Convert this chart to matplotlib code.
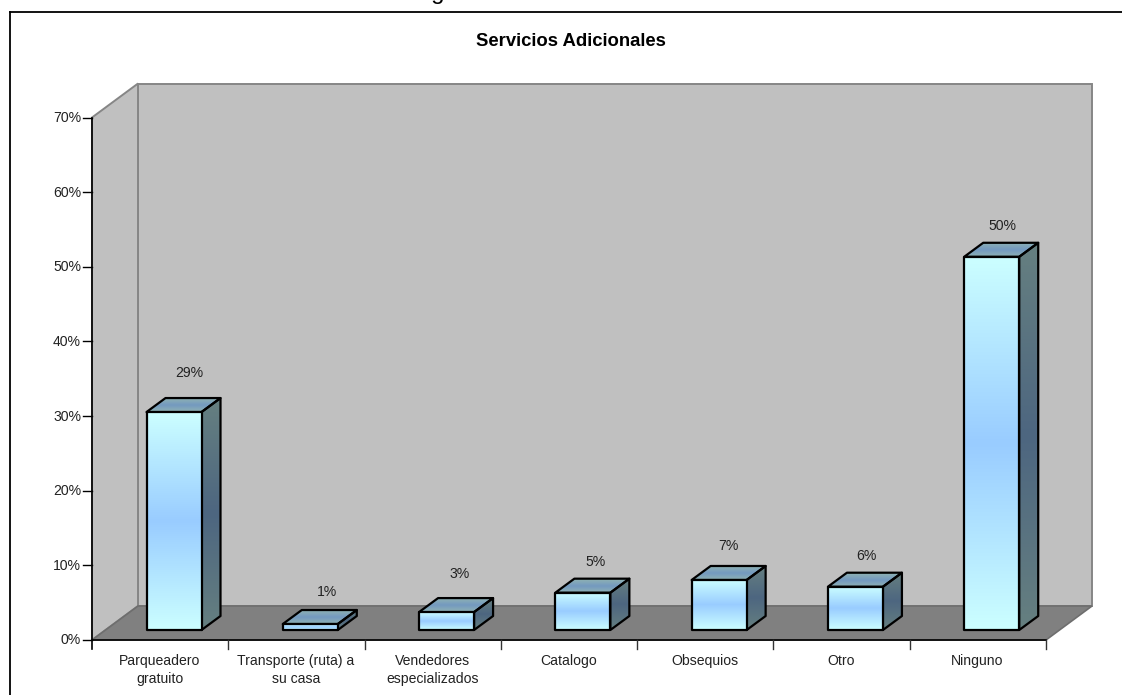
import matplotlib
matplotlib.use('Agg')
import matplotlib.pyplot as plt
from matplotlib.colors import LinearSegmentedColormap
from matplotlib.patches import Polygon
import numpy as np

plt.rcParams['font.family'] = ['Liberation Sans', 'DejaVu Sans']

# data
categories = ['Parqueadero\ngratuito', 'Transporte (ruta) a\nsu casa', 'Vendedores\nespecializados',
              'Catalogo', 'Obsequios', 'Otro', 'Ninguno']
values = [29.2, 0.8, 2.4, 5.0, 6.7, 5.8, 50.0]
value_labels = ['29%', '1%', '3%', '5%', '7%', '6%', '50%']
y_ticks = [0, 10, 20, 30, 40, 50, 60, 70]
y_tick_labels = ['0%', '10%', '20%', '30%', '40%', '50%', '60%', '70%']

W, H = 1122, 695
fig = plt.figure(figsize=(W / 100, H / 100), dpi=100, facecolor='white')

# axes spans the front plane of the 3D box, data units: categories / percent
x0, x1, y0, y70 = 92, 1046, 640, 117.5
ax = fig.add_axes([x0 / W, 1 - y0 / H, (x1 - x0) / W, (y0 - y70) / H])
ax.set_xlim(0, len(categories))
ax.set_ylim(0, 70)
ax.patch.set_visible(False)
for s in ax.spines.values():
    s.set_visible(False)
ax.set_xticks([])
ax.set_yticks([])

px = len(categories) / (x1 - x0)
py = 70 / (y0 - y70)

# box depth and bar depth
dx, dy = 46 * px, 34 * py
bdx, bdy = 19 * px, 14 * py
bar_w = 55 * px
bar_off = 54.5 * px
base = 10 * py
wall = '#c0c0c0'
wall_edge = '#868686'
floor = '#808080'
font = 10.1

# the value labels were placed by hand in the original, offsets in pixels
label_dx = [43, 44, 41, 40, 37, 38.5, 38]
label_dy = [25, 18, 24, 17, 20, 17, 17]


def poly(pts, **kw):
    p = Polygon(pts, closed=True, clip_on=False, **kw)
    ax.add_patch(p)
    return p


n = len(categories)
poly([(dx, dy), (n + dx, dy), (n + dx, 70 + dy), (dx, 70 + dy)], fc=wall, ec=wall_edge, lw=1.4, zorder=1)
poly([(0, 0), (dx, dy), (dx, 70 + dy), (0, 70)], fc=wall, ec=wall_edge, lw=1.4, zorder=1)
poly([(0, 0), (n, 0), (n + dx, dy), (dx, dy)], fc=floor, ec='#6e6e6e', lw=1.2, zorder=2)

front_cmap = LinearSegmentedColormap.from_list('front', ['#ccffff', '#99ccff', '#ccffff'])
side_cmap = LinearSegmentedColormap.from_list('side', ['#668080', '#4d6680', '#668080'])
top_cmap = LinearSegmentedColormap.from_list('top', ['#8fb3b3', '#7399c0', '#8fb3b3'])
grad = np.linspace(0, 1, 256).reshape(-1, 1)


def grad_poly(pts, cmap, z):
    xs = [p[0] for p in pts]
    ys = [p[1] for p in pts]
    im = ax.imshow(grad, cmap=cmap, extent=(min(xs), max(xs), min(ys), max(ys)),
                   aspect='auto', zorder=z, clip_on=True, interpolation='bilinear')
    outline = poly(pts, fc='none', ec='black', lw=1.6, zorder=z + 0.1, joinstyle='round')
    im.set_clip_path(outline)


for i, (v, lab) in enumerate(zip(values, value_labels)):
    left = i + bar_off
    right = left + bar_w
    top = v + base
    z = 3 + i
    grad_poly([(right, base), (right + bdx, base + bdy), (right + bdx, top + bdy), (right, top)], side_cmap, z)
    grad_poly([(left, top), (right, top), (right + bdx, top + bdy), (left + bdx, top + bdy)], top_cmap, z)
    grad_poly([(left, base), (right, base), (right, top), (left, top)], front_cmap, z + 0.2)
    ax.text(left + label_dx[i] * px, top + bdy + label_dy[i] * py, lab, ha='center', va='center',
            fontsize=font, color='#222222', zorder=20)

ax.set_xlim(0, n)
ax.set_ylim(0, 70)

# axes lines, ticks and labels
ax.plot([0, n], [0, 0], color='black', lw=1.2, clip_on=False, zorder=15)
ax.plot([0, 0], [-9 * py, 70], color='black', lw=1.2, clip_on=False, zorder=15)
for t, lab in zip(y_ticks, y_tick_labels):
    ax.plot([-9 * px, 0], [t, t], color='black', lw=1.0, clip_on=False, zorder=15)
    ax.text(-11 * px, t - 0.5 * py, lab, ha='right', va='center', fontsize=font, color='#222222')
for i in range(1, n + 1):
    ax.plot([i, i], [-9 * py, 0], color='#333333', lw=1.0, clip_on=False, zorder=15)
for i, lab in enumerate(categories):
    ax.text(i + 0.5 - 0.004, -14 * py, lab, ha='center', va='top', fontsize=font, color='#222222', linespacing=1.35)

# outer frame has only a top and a left edge in view
fig.add_artist(plt.Line2D([9.5 / W, 9.5 / W], [0, 1 - 11.5 / H], color='black', lw=1.3))
fig.add_artist(plt.Line2D([9.5 / W, 1], [1 - 11.5 / H, 1 - 11.5 / H], color='black', lw=1.3))

fig.text(571 / W, 1 - 42 / H, 'Servicios Adicionales', ha='center', va='center', fontsize=13.3, fontweight='bold')
# caption above the frame is cut by the top edge in the reference too
fig.text(570 / W, 1 + 1.5 / H, 'Figura 8 Servicios adicionales', ha='center', va='baseline', fontsize=17.3)

fig.savefig('out.png', dpi=100)
